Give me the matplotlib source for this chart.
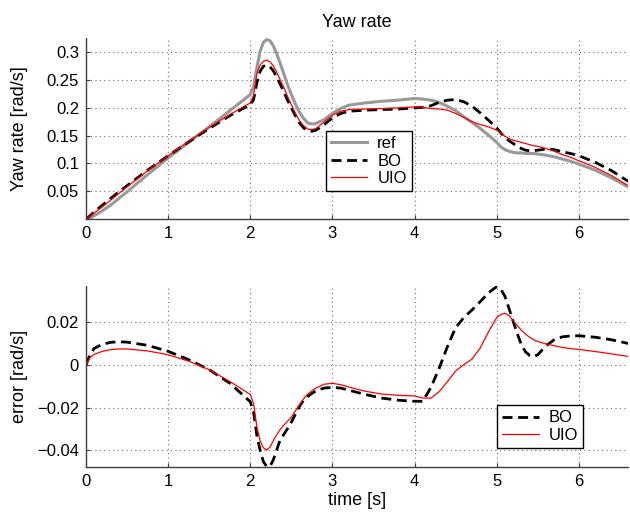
import numpy as np
import matplotlib
matplotlib.use('Agg')
import matplotlib.pyplot as plt

plt.rcParams['font.family'] = ['Liberation Sans', 'DejaVu Sans']
plt.rcParams['font.size'] = 12

# ---------------- DATA ----------------
t = [0, 0.05, 0.1, 0.2, 0.3, 0.4, 0.5, 0.75, 1.0, 1.25, 1.5, 1.75, 2.0,
     2.04, 2.08, 2.12, 2.16, 2.2, 2.24, 2.28, 2.32, 2.36, 2.4,
     2.45, 2.5, 2.55, 2.6, 2.65, 2.7, 2.75, 2.8,
     2.9, 3.0, 3.1, 3.2, 3.4, 3.6, 3.8, 4.0,
     4.1, 4.2, 4.3, 4.4, 4.5, 4.6, 4.7, 4.8, 4.9, 5.0,
     5.05, 5.1, 5.15, 5.2, 5.25, 5.3, 5.35, 5.4, 5.45, 5.5,
     5.6, 5.7, 5.8, 5.9, 6.0, 6.2, 6.4, 6.6]

yaw_ref = [0, 0.002, 0.006, 0.015, 0.025, 0.037, 0.049, 0.080, 0.110, 0.138, 0.166, 0.195, 0.224,
           0.238, 0.272, 0.302, 0.318, 0.323, 0.321, 0.312, 0.298, 0.282, 0.265,
           0.243, 0.224, 0.207, 0.192, 0.181, 0.173, 0.171, 0.172,
           0.179, 0.190, 0.199, 0.205, 0.209, 0.212, 0.214, 0.217,
           0.216, 0.214, 0.210, 0.203, 0.195, 0.184, 0.174, 0.163, 0.151, 0.138,
           0.130, 0.125, 0.122, 0.120, 0.119, 0.119, 0.118, 0.118, 0.118, 0.117,
           0.115, 0.112, 0.108, 0.104, 0.099, 0.088, 0.074, 0.058]

yaw_bo = [0, 0.006, 0.013, 0.025, 0.037, 0.049, 0.060, 0.088, 0.114, 0.139, 0.163, 0.186, 0.206,
          0.215, 0.245, 0.266, 0.275, 0.277, 0.274, 0.267, 0.256, 0.244, 0.232,
          0.215, 0.200, 0.186, 0.173, 0.164, 0.159, 0.158, 0.160,
          0.170, 0.182, 0.190, 0.194, 0.196, 0.197, 0.198, 0.200,
          0.201, 0.204, 0.210, 0.214, 0.215, 0.211, 0.203, 0.191, 0.178, 0.164,
          0.155, 0.147, 0.141, 0.136, 0.131, 0.127, 0.124, 0.123, 0.123, 0.124,
          0.126, 0.125, 0.121, 0.118, 0.114, 0.102, 0.087, 0.068]

yaw_uio = [0, 0.005, 0.011, 0.022, 0.034, 0.046, 0.058, 0.087, 0.114, 0.140, 0.165, 0.188, 0.209,
           0.222, 0.262, 0.277, 0.284, 0.286, 0.283, 0.276, 0.265, 0.252, 0.240,
           0.222, 0.206, 0.190, 0.177, 0.168, 0.162, 0.161, 0.163,
           0.175, 0.187, 0.194, 0.197, 0.198, 0.199, 0.200, 0.202,
           0.201, 0.199, 0.198, 0.196, 0.190, 0.183, 0.175, 0.170, 0.166, 0.160,
           0.155, 0.149, 0.145, 0.142, 0.140, 0.138, 0.136, 0.134, 0.132, 0.131,
           0.127, 0.122, 0.116, 0.111, 0.105, 0.093, 0.078, 0.060]

err_bo = [0, 0.005, 0.0078, 0.0097, 0.0106, 0.0109, 0.0107, 0.0092, 0.0064, 0.0025, -0.0022, -0.0085, -0.0172,
          -0.022, -0.033, -0.040, -0.0453, -0.0475, -0.0475, -0.0445, -0.040, -0.0355, -0.033,
          -0.030, -0.0268, -0.023, -0.0193, -0.0165, -0.0147, -0.0133, -0.0121,
          -0.0108, -0.0105, -0.0108, -0.0118, -0.0138, -0.0155, -0.0165, -0.0170,
          -0.0170, -0.0105, -0.0015, 0.0086, 0.0175, 0.0222, 0.0258, 0.0297, 0.0338, 0.0367,
          0.0355, 0.0322, 0.0265, 0.0205, 0.0148, 0.0095, 0.0062, 0.0045, 0.0039, 0.0048,
          0.0090, 0.0118, 0.0132, 0.0136, 0.0137, 0.0130, 0.0118, 0.0101]

err_uio = [0, 0.0035, 0.0050, 0.0064, 0.0072, 0.0075, 0.0075, 0.0066, 0.0048, 0.0018, -0.0022, -0.0077, -0.0138,
           -0.018, -0.0289, -0.0355, -0.0388, -0.0398, -0.0385, -0.0355, -0.0328, -0.0304, -0.0285,
           -0.0265, -0.0245, -0.0215, -0.0185, -0.0158, -0.0136, -0.0121, -0.0108,
           -0.0090, -0.0086, -0.0092, -0.0103, -0.0123, -0.0136, -0.0142, -0.0145,
           -0.0155, -0.0155, -0.0125, -0.0078, -0.0028, 0.0002, 0.0028, 0.0080, 0.0155, 0.0222,
           0.0237, 0.0242, 0.0232, 0.0208, 0.0185, 0.0163, 0.0145, 0.0130, 0.0118, 0.0110,
           0.0099, 0.0090, 0.0082, 0.0077, 0.0073, 0.0063, 0.0052, 0.0040]

xticks = [0, 1, 2, 3, 4, 5, 6]
yticks_top = [0.05, 0.1, 0.15, 0.2, 0.25, 0.3]
yticks_bot = [-0.04, -0.02, 0, 0.02]

BO_DASH = (0, (3.6, 2.0))


def style_axes(ax):
    for side in ['top', 'right']:
        ax.spines[side].set_visible(False)
    for side in ['left', 'bottom']:
        ax.spines[side].set_color('#404040')
        ax.spines[side].set_linewidth(1.0)
    ax.tick_params(direction='in', length=3, width=0.8, colors='#404040',
                   labelcolor='black', labelsize=12, pad=5)
    ax.grid(True, linestyle=(0, (1, 3)), color='#707070', linewidth=0.8)
    ax.set_axisbelow(True)
    ax.set_xlim(0, 6.6)
    ax.set_xticks(xticks)
    ax.set_xticklabels([str(x) for x in xticks])
    ax.yaxis.set_label_coords(-0.107, 0.5)


def add_legend(ax, anchor):
    leg = ax.legend(loc='lower left', bbox_to_anchor=anchor, borderaxespad=0,
                    fancybox=False, edgecolor='black', framealpha=1, fontsize=12,
                    handlelength=2.2, handletextpad=0.6, labelspacing=0.15,
                    borderpad=0.3)
    leg.get_frame().set_linewidth(1.0)
    return leg


fig = plt.figure(figsize=(6.3, 5.13), dpi=100)
ax1 = fig.add_axes([0.1365, 0.573, 0.8605, 0.352])
ax2 = fig.add_axes([0.1365, 0.090, 0.8605, 0.3525])

# ---------------- YAW RATE ----------------
ax1.plot(t, yaw_ref, color='#999999', linewidth=2.2, label='ref')
ax1.plot(t, yaw_bo, color='black', linewidth=2.0, linestyle=BO_DASH, label='BO')
ax1.plot(t, yaw_uio, color='red', linewidth=0.9, label='UIO')
style_axes(ax1)
ax1.set_ylim(0, 0.325)
ax1.set_yticks(yticks_top)
ax1.set_yticklabels(['0.05', '0.1', '0.15', '0.2', '0.25', '0.3'])
ax1.set_ylabel('Yaw rate [rad/s]', fontsize=13)
ax1.set_title('Yaw rate', fontsize=13, pad=8)
add_legend(ax1, (0.442, 0.155))

# ---------------- ERROR ----------------
ax2.plot(t, err_bo, color='black', linewidth=2.0, linestyle=BO_DASH, label='BO')
ax2.plot(t, err_uio, color='red', linewidth=0.9, label='UIO')
style_axes(ax2)
ax2.set_ylim(-0.0477, 0.037)
ax2.set_yticks(yticks_bot)
ax2.set_yticklabels(['\u22120.04', '\u22120.02', '0', '0.02'])
ax2.set_ylabel('error [rad/s]', fontsize=13)
ax2.set_xlabel('time [s]', fontsize=13, labelpad=2)
add_legend(ax2, (0.758, 0.105))

fig.savefig('out.png', dpi=100)
